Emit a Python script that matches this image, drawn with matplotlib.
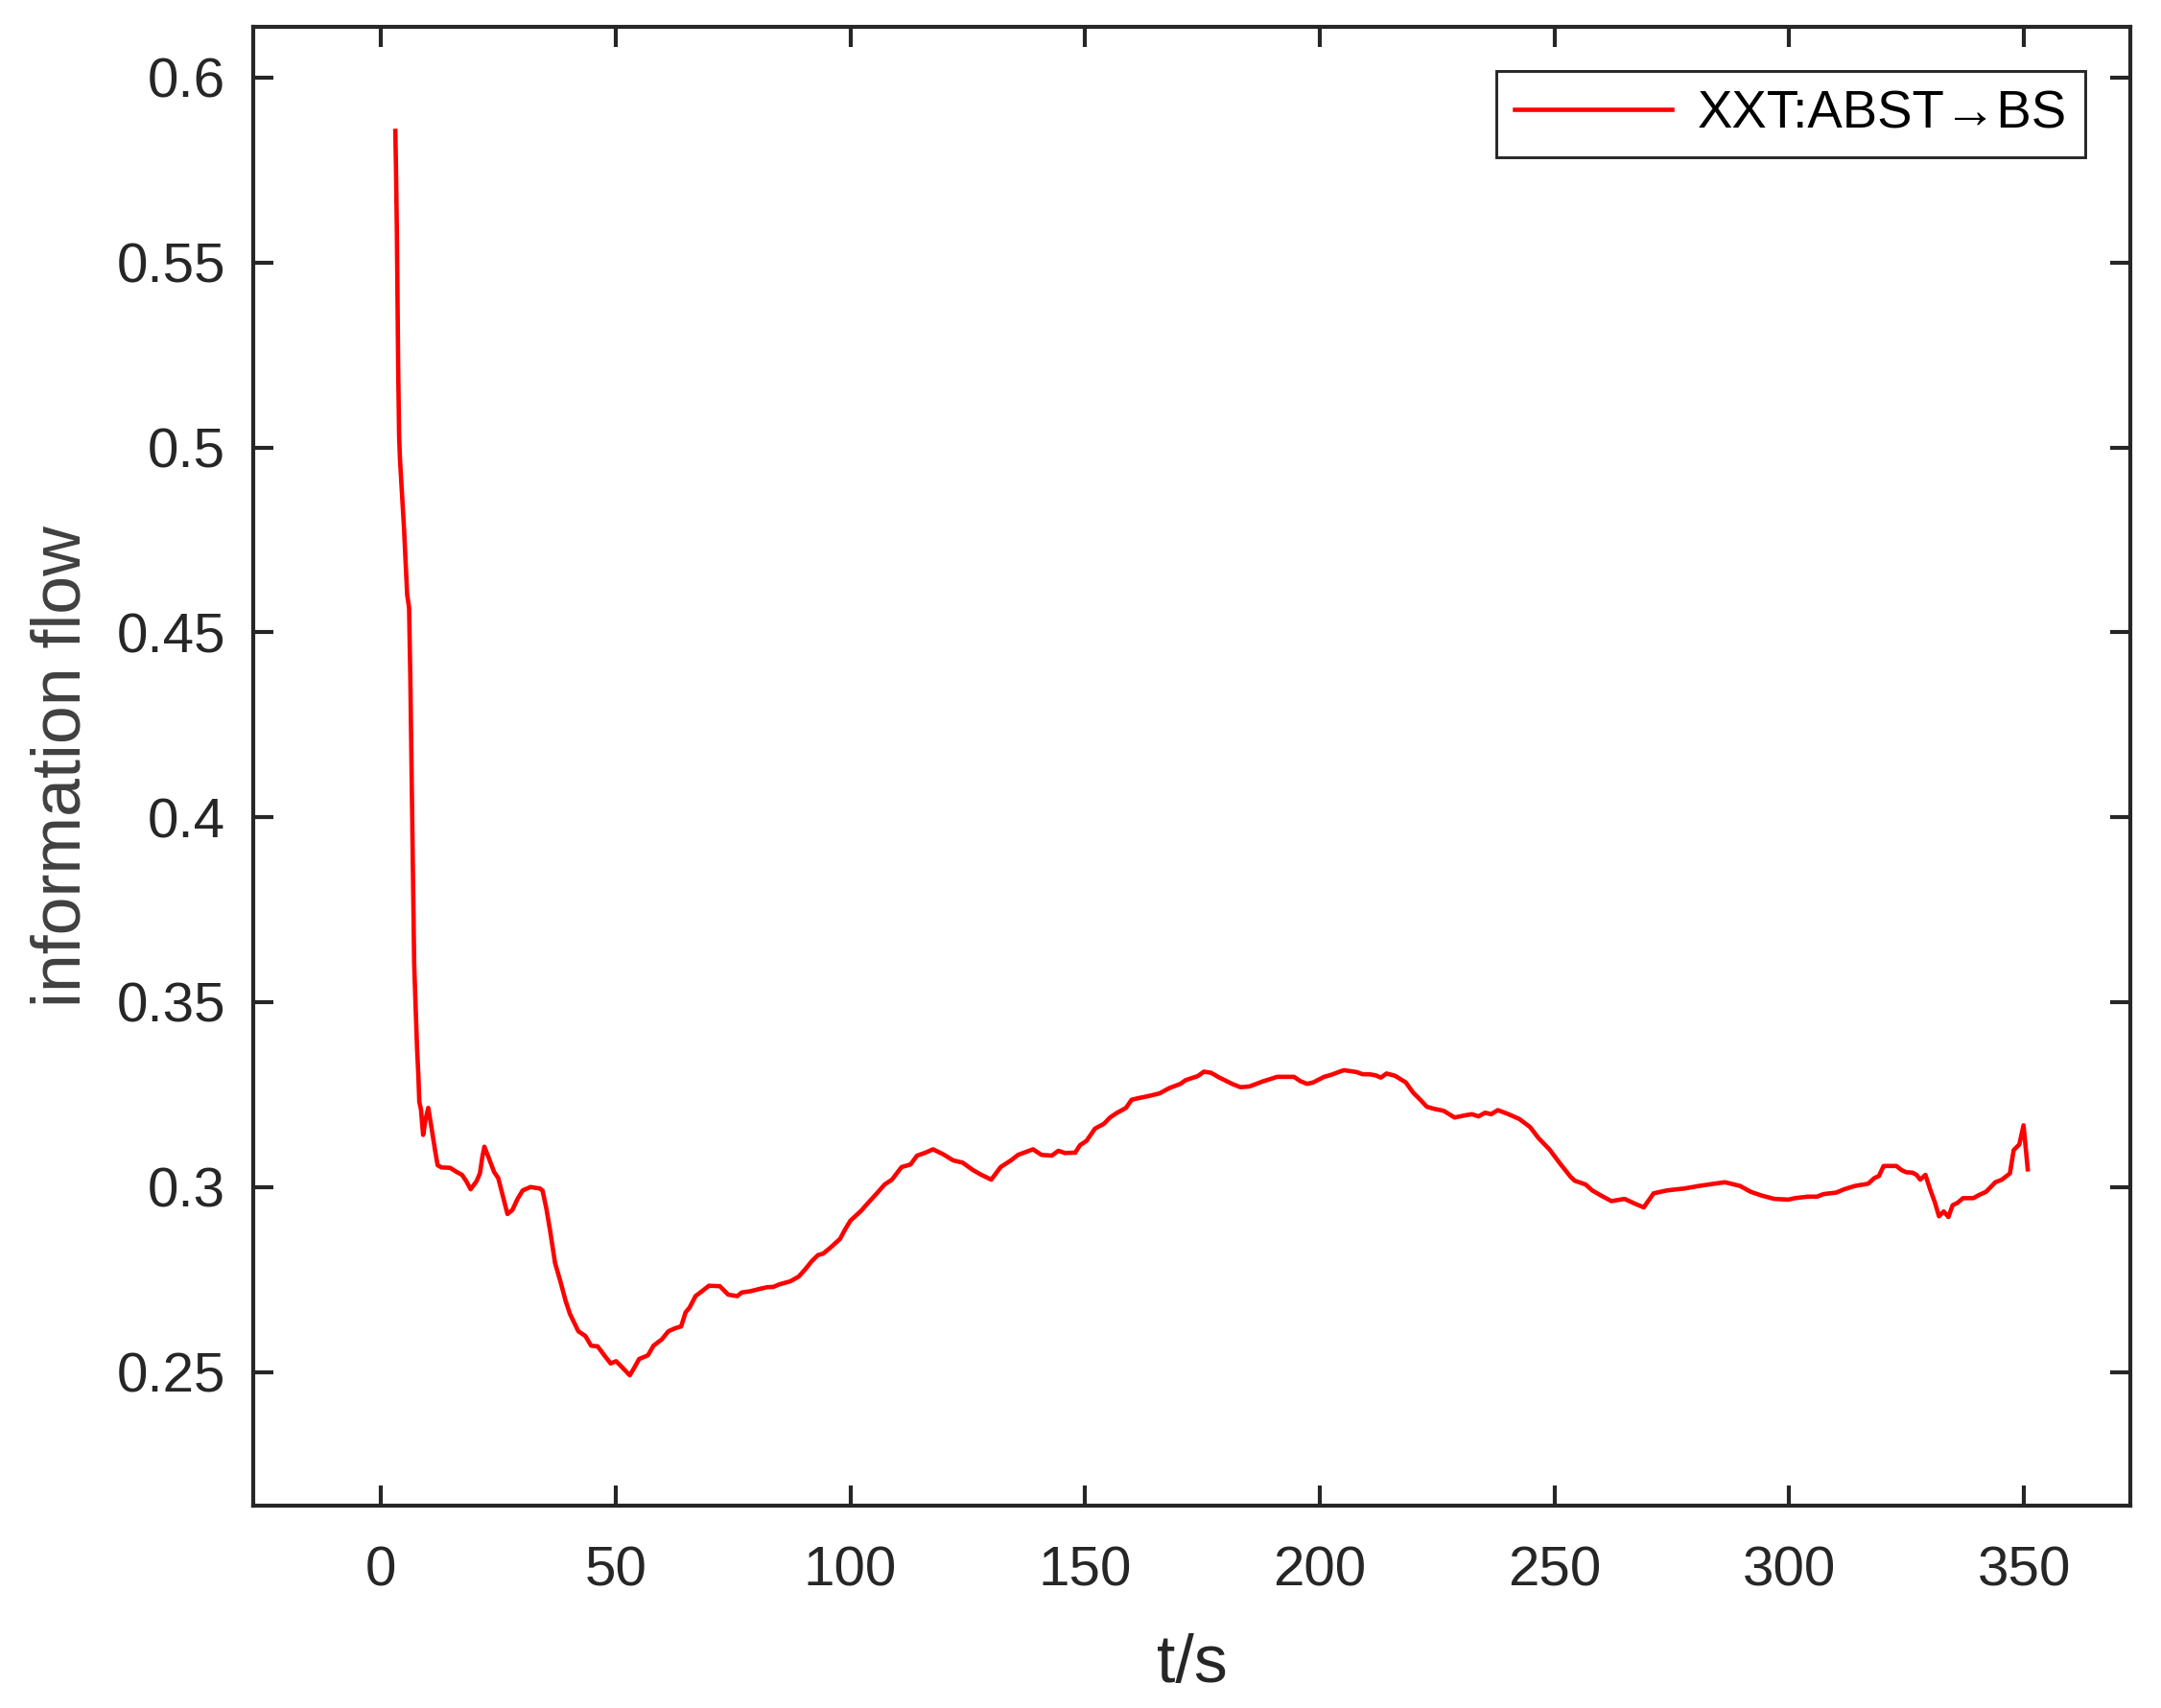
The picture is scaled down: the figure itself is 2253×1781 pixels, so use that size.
import numpy as np
import matplotlib
matplotlib.use("Agg")
import matplotlib.pyplot as plt
from matplotlib.ticker import FuncFormatter

plt.rcParams['font.family'] = ['Liberation Sans', 'DejaVu Sans']

# values
t = [3.06, 3.19, 3.39, 3.53, 3.67, 3.87, 4.06, 4.36, 4.62, 4.90, 5.24, 5.58, 5.99,
     6.26, 6.46, 6.67, 6.88, 7.08, 7.29, 7.49, 7.69, 7.97, 8.17, 8.52, 8.98, 9.52,
     10.08, 10.8, 11.54, 12.07, 12.9, 14.73, 16.1, 17.26, 18.17, 19.1, 20.37, 21.08,
     21.58, 22.03, 22.93, 24.09, 24.99, 25.95, 26.95, 28.0, 29.1, 30.2, 31.87, 33.87,
     34.43, 35.23, 36.03, 37.08, 38.24, 39.34, 40.25, 42.05, 43.56, 44.76, 46.17,
     47.57, 48.93, 50.08, 51.19, 53.0, 53.9, 55.0, 56.87, 58.06, 59.82, 61.23, 62.63,
     63.94, 64.89, 65.74, 67.0, 68.05, 69.86, 72.17, 73.97, 75.88, 76.88, 78.59, 80.8,
     82.2, 83.6, 84.9, 87.2, 89.0, 90.4, 91.8, 93.1, 94.2, 96.0, 97.8, 98.9, 100.0,
     102.3, 103.9, 105.5, 107.3, 108.85, 110.9, 112.8, 114.2, 116.0, 117.6, 119.7,
     121.9, 123.9, 126.1, 127.9, 130.0, 132.0, 134.3, 135.7, 138.9, 140.7, 142.9,
     144.3, 145.7, 147.9, 148.9, 150.3, 152.1, 154.0, 155.3, 156.7, 158.7, 159.9,
     161.2, 163.5, 165.8, 168.0, 170.3, 171.4, 174.0, 175.3, 176.8, 178.6, 181.3,
     183.1, 185.0, 187.7, 190.9, 194.5, 195.9, 197.3, 198.6, 200.9, 202.3, 205.1,
     207.8, 209.1, 210.6, 211.9, 213.0, 214.2, 216.0, 218.3, 219.9, 221.4, 222.8,
     224.2, 226.4, 228.7, 231.0, 232.4, 233.8, 235.2, 236.5, 237.9, 239.8, 242.5,
     244.8, 246.6, 248.9, 251.2, 253.4, 254.3, 256.6, 258.0, 259.9, 262.1, 264.9,
     267.1, 269.0, 271.1, 274.0, 277.6, 280.8, 284.0, 286.3, 289.5, 291.8, 294.1,
     296.8, 299.8, 301.2, 303.9, 305.9, 307.3, 310.0, 311.7, 314.0, 316.8, 318.1,
     319.1, 320.1, 322.8, 323.9, 324.9, 326.2, 327.1, 327.9, 329.0, 330.0, 331.0,
     331.9, 332.9, 333.9, 334.8, 335.8, 337.0, 339.2, 340.5, 341.9, 343.9, 345.3,
     347.0, 347.8, 349.0, 349.9, 350.8]
flow = [0.5856, 0.5766, 0.5584, 0.540, 0.5211, 0.503, 0.4966, 0.490, 0.4847, 0.4784,
        0.4693, 0.4602, 0.4566, 0.4375, 0.4184, 0.3984, 0.3793, 0.3602, 0.352, 0.3448,
        0.3375, 0.3302, 0.323, 0.321, 0.3141, 0.3184, 0.3214, 0.3158, 0.3098, 0.3059,
        0.3053, 0.3052, 0.3041, 0.3033, 0.3016, 0.2994, 0.3016, 0.3037, 0.308, 0.3109,
        0.308, 0.3041, 0.3024, 0.2977, 0.2927, 0.2938, 0.2968, 0.2991, 0.3, 0.2996,
        0.299, 0.2942, 0.2882, 0.2795, 0.2744, 0.2692, 0.2657, 0.261, 0.2597, 0.2571,
        0.2569, 0.2545, 0.2523, 0.2529, 0.2515, 0.2491, 0.251, 0.2535, 0.2545, 0.2571,
        0.2588, 0.261, 0.2618, 0.2623, 0.2661, 0.2674, 0.2705, 0.2715, 0.2733, 0.2732,
        0.2709, 0.2705, 0.2715, 0.2718, 0.2725, 0.2729, 0.273, 0.2737, 0.2745, 0.2758,
        0.2778, 0.28, 0.2816, 0.282, 0.2839, 0.286, 0.2886, 0.2909, 0.2936, 0.2959,
        0.2981, 0.3007, 0.302, 0.3054, 0.3061, 0.3085, 0.3093, 0.3102, 0.3089, 0.3072,
        0.3066, 0.3046, 0.3033, 0.302, 0.3054, 0.3073, 0.3087, 0.3102, 0.3087, 0.3085,
        0.3098, 0.3092, 0.3093, 0.3113, 0.3125, 0.3158, 0.3171, 0.3188, 0.32, 0.3214,
        0.3236, 0.324, 0.3246, 0.3253, 0.3268, 0.3279, 0.3289, 0.33, 0.3312, 0.3309,
        0.3296, 0.3279, 0.327, 0.3272, 0.3285, 0.3298, 0.3298, 0.3286, 0.3279, 0.3283,
        0.3298, 0.3303, 0.3316, 0.3311, 0.3305, 0.3305, 0.3302, 0.3296, 0.3307, 0.3301,
        0.3283, 0.3255, 0.3236, 0.3217, 0.3212, 0.3206, 0.3188, 0.3194, 0.3197, 0.3191,
        0.3201, 0.3197, 0.3208, 0.3199, 0.3184, 0.3162, 0.3132, 0.3102, 0.3063, 0.3028,
        0.3017, 0.3007, 0.2991, 0.2977, 0.2962, 0.2968, 0.2955, 0.2945, 0.2983, 0.2991,
        0.2996, 0.3003, 0.3009, 0.3013, 0.3003, 0.2987, 0.2977, 0.2968, 0.2966, 0.297,
        0.2974, 0.2974, 0.2981, 0.2985, 0.2994, 0.3003, 0.3009, 0.3024, 0.303, 0.3057,
        0.3057, 0.3046, 0.304, 0.3039, 0.3033, 0.302, 0.3033, 0.2994, 0.2959, 0.2921,
        0.2934, 0.2919, 0.2951, 0.2957, 0.297, 0.297, 0.2979, 0.2987, 0.3013, 0.302,
        0.3037, 0.31, 0.3115, 0.3167, 0.3048]

x_ticks = [0, 50, 100, 150, 200, 250, 300, 350]
y_ticks = [0.25, 0.3, 0.35, 0.4, 0.45, 0.5, 0.55, 0.6]
label = 'XXT:ABST\u2192BS'

dark = '#262626'
fig = plt.figure(figsize=(2253 / 300, 1781 / 300), dpi=300)
ax = fig.add_axes([0.1172, 0.1186, 0.9857 - 0.1172, 0.9844 - 0.1186])

ax.plot(t, flow, color='red', lw=1.1, label=label)

ax.set_xlim(-27.2, 372.6)
ax.set_ylim(0.2139, 0.6138)
ax.set_xticks(x_ticks)
ax.set_yticks(y_ticks)
ax.yaxis.set_major_formatter(FuncFormatter(lambda v, p: f'{v:g}'))

for s in ax.spines.values():
    s.set_color(dark)
    s.set_linewidth(1.0)
ax.tick_params(direction='in', length=5, width=1.0, colors=dark,
               top=True, right=True, labelsize=14)
ax.tick_params(axis='x', pad=10)
ax.tick_params(axis='y', pad=7)

ax.set_xlabel('t/s', fontsize=16.8, color=dark, labelpad=9)
ax.set_ylabel('information flow', fontsize=17.2, color='#404040', labelpad=5.5)

leg = ax.legend(loc='upper right', fontsize=13.1, fancybox=False, framealpha=1,
                edgecolor=dark, handlelength=3.0, handletextpad=0.5,
                borderpad=0.35, borderaxespad=0.85)
leg.get_frame().set_linewidth(0.7)

fig.savefig('out.png', dpi=300)
